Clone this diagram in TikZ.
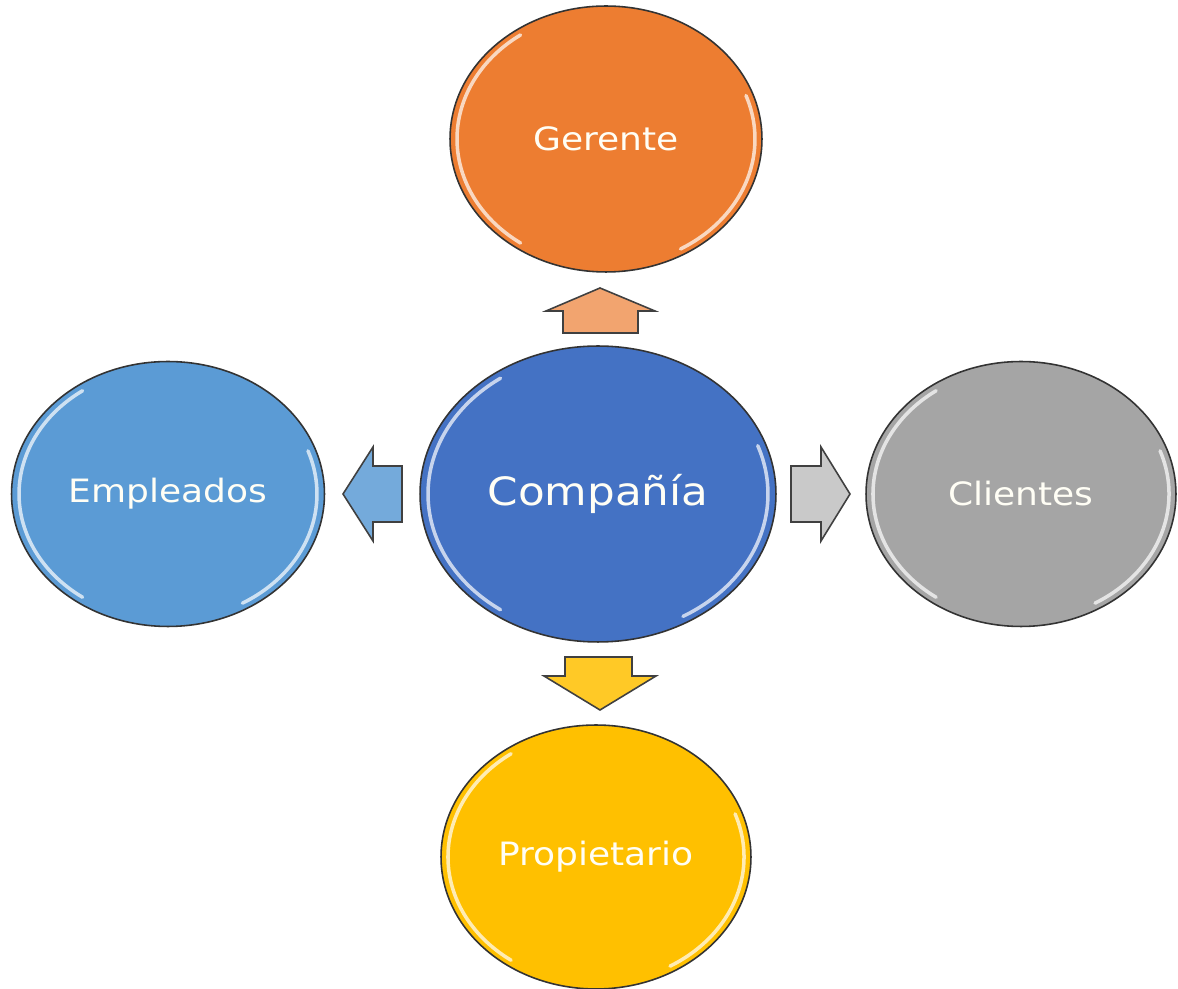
\documentclass[tikz,border=0pt]{standalone}
\usepackage{fontspec}
\setmainfont[FakeStretch=1.12]{DejaVu Sans}
\usetikzlibrary{shapes.geometric}
\definecolor{cOrange}{HTML}{ED7D31}
\definecolor{cBlue}{HTML}{4472C4}
\definecolor{cLBlue}{HTML}{5B9BD5}
\definecolor{cGray}{HTML}{A5A5A5}
\definecolor{cGold}{HTML}{FFC000}
\tikzset{
  bubble/.style={ellipse, draw=black!80, line width=0.9pt, inner sep=0pt, text=white!96!yellow, font=\fontsize{18.3}{22}\selectfont},
  blockarrow/.style={draw=black!75, line width=0.9pt, line join=miter},
  gloss/.style={white, opacity=0.7, line width=2pt, line cap=round},
}
\begin{document}
\begin{tikzpicture}[x=0.02cm, y=-0.02cm]
\useasboundingbox (0,0) rectangle (1178,989);
% nodes
\node[bubble, fill=cOrange, minimum width=6.24cm, minimum height=5.32cm] (ger) at (606,139) {Gerente};
\node[bubble, fill=cBlue, minimum width=7.12cm, minimum height=5.92cm, font=\fontsize{22.2}{27}\selectfont] (comp) at (598,494) {Compañía};
\node[bubble, fill=cLBlue, minimum width=6.26cm, minimum height=5.3cm] (emp) at (168,494) {Empleados};
\node[bubble, fill=cGray, minimum width=6.2cm, minimum height=5.3cm] (cli) at (1021,494) {Clientes};
\node[bubble, fill=cGold, minimum width=6.2cm, minimum height=5.28cm] (pro) at (596,857) {Propietario};
% gloss highlights
\foreach \cx/\cy/\rx/\ry in {606/139/156/133, 598/494/178/148, 168/494/156/132, 1021/494/155/132, 596/857/155/132}{
  \draw[gloss, shift={(\cx,\cy)}] plot[domain=125:235, samples=40, smooth] ({0.955*\rx*cos(\x)},{-0.955*\ry*sin(\x)});
  \draw[gloss, shift={(\cx,\cy)}] plot[domain=-60:20, samples=30, smooth] ({0.955*\rx*cos(\x)},{-0.955*\ry*sin(\x)});
}
% block arrows
\draw[blockarrow, fill=cOrange!70!white] (563,333) -- (563,311) -- (546,311) -- (600,288) -- (655,311) -- (638,311) -- (638,333) -- cycle;
\draw[blockarrow, fill=cGold!85!white] (565,657) -- (632,657) -- (632,676) -- (656,676) -- (600,710) -- (544,676) -- (565,676) -- cycle;
\draw[blockarrow, fill=cLBlue!85!white] (402,466) -- (402,522) -- (373,522) -- (373,541) -- (343,494) -- (373,447) -- (373,466) -- cycle;
\draw[blockarrow, fill=cGray!60!white] (791,466) -- (791,522) -- (821,522) -- (821,541) -- (850,494) -- (821,447) -- (821,466) -- cycle;
\end{tikzpicture}
\end{document}
